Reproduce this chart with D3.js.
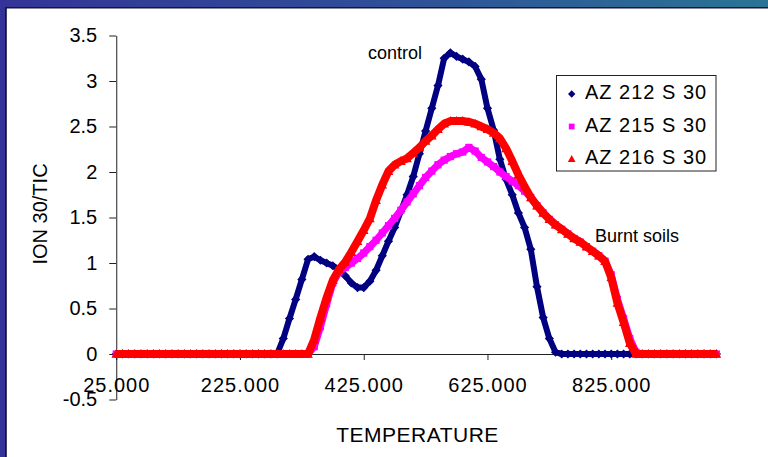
<!DOCTYPE html>
<html><head><meta charset="utf-8">
<script src="https://cdn.jsdelivr.net/npm/d3@7"></script>
<style>
body{margin:0;background:#fff}
svg{display:block}
text{font-family:Arial,"Liberation Sans",sans-serif;fill:#000}
</style>
</head><body>
<svg id="c" width="768" height="457"></svg>
<script>
// ---- data ----
const temps = [25,35,45,55,65,75,85,95,105,115,
  125,135,145,155,165,175,185,195,205,215,
  225,235,245,255,265,275,285,295,305,315,
  325,335,345,355,365,375,385,395,405,415,
  425,435,445,455,465,475,485,495,505,515,
  525,535,545,555,565,575,585,595,605,615,
  625,635,645,655,665,675,685,695,705,715,
  725,735,745,755,765,775,785,795,805,815,
  825,835,845,855,865,875,885,895,905,915,
  925,935,945,955,965,975,985,995];

const az212 = [0,0,0,0,0,0,0,0,0,0,
  0,0,0,0,0,0,0,0,0,0,
  0,0,0,0,0,0,0,0.17,0.39,0.60,
  0.82,1.04,1.07,1.03,1.00,0.97,0.93,0.86,0.78,0.73,
  0.73,0.80,0.92,1.08,1.24,1.39,1.57,1.75,1.95,2.20,
  2.45,2.70,2.95,3.25,3.31,3.27,3.24,3.21,3.16,3.02,
  2.70,2.46,2.14,1.92,1.75,1.55,1.39,1.15,0.74,0.40,
  0.17,0.02,0,0,0,0,0,0,0,0,
  0,0,0,0,0,0,0,0,0,0,
  0,0,0,0,0,0,0,0];

const az215 = [0,0,0,0,0,0,0,0,0,0,
  0,0,0,0,0,0,0,0,0,0,
  0,0,0,0,0,0,0,0,0,0,
  0,0,0.08,0.30,0.55,0.78,0.90,0.95,1.00,1.05,
  1.11,1.18,1.25,1.33,1.41,1.49,1.58,1.67,1.76,1.85,
  1.94,2.01,2.08,2.13,2.17,2.20,2.22,2.27,2.23,2.16,
  2.11,2.06,2.00,1.95,1.90,1.85,1.79,1.72,1.63,1.55,
  1.48,1.42,1.37,1.32,1.27,1.23,1.18,1.13,1.08,1.02,
  0.87,0.60,0.39,0.17,0.02,0,0,0,0,0,
  0,0,0,0,0,0,0,0];

const az216 = [0,0,0,0,0,0,0,0,0,0,
  0,0,0,0,0,0,0,0,0,0,
  0,0,0,0,0,0,0,0,0,0,
  0,0,0.16,0.40,0.62,0.81,0.93,1.01,1.12,1.24,
  1.36,1.49,1.69,1.86,2.01,2.08,2.12,2.15,2.21,2.27,
  2.34,2.40,2.47,2.53,2.56,2.56,2.56,2.55,2.53,2.50,
  2.47,2.43,2.37,2.26,2.12,1.97,1.84,1.72,1.63,1.55,
  1.48,1.42,1.37,1.32,1.27,1.23,1.18,1.13,1.08,1.02,
  0.84,0.56,0.35,0.12,0,0,0,0,0,0,
  0,0,0,0,0,0,0,0];

const seriesNames = ["AZ 212 S 30","AZ 215 S 30","AZ 216 S 30"];
const xTicks = [25,225,425,625,825];
const yTicks = [-0.5,0,0.5,1,1.5,2,2.5,3,3.5];
const xTitle = "TEMPERATURE";
const yTitle = "ION 30/TIC";
const notes = ["control","Burnt soils"];

// ---- drawing ----
const svg = d3.select("#c");
const defs = svg.append("defs");
const grad = defs.append("linearGradient").attr("id","topbar").attr("x1","0").attr("x2","1").attr("y1","0").attr("y2","0");
grad.append("stop").attr("offset","0").attr("stop-color","#343496");
grad.append("stop").attr("offset","0.5").attr("stop-color","#2f4f98");
grad.append("stop").attr("offset","1").attr("stop-color","#2a7494");

// frame
svg.append("rect").attr("x",0).attr("y",0).attr("width",768).attr("height",7).attr("fill","url(#topbar)");
svg.append("rect").attr("x",0).attr("y",0).attr("width",5).attr("height",457).attr("fill","#333399");
svg.append("rect").attr("x",5).attr("y",7).attr("width",763).attr("height",1.5).attr("fill","#15153a");
svg.append("rect").attr("x",5).attr("y",7).attr("width",1.8).attr("height",450).attr("fill","#15153a");

const x = d3.scaleLinear().domain([25,1000]).range([116.25,719.5]);
const y = d3.scaleLinear().domain([-0.5,3.5]).range([399.5,35.5]);

// axes
const gy = svg.append("g").attr("transform",`translate(${x(25)},0)`)
  .call(d3.axisLeft(y).tickValues(yTicks).tickFormat(d=>String(d)).tickSize(7).tickSizeOuter(0).tickPadding(12));
const gx = svg.append("g").attr("transform",`translate(0,${y(0)})`)
  .call(d3.axisBottom(x).tickValues(xTicks).tickFormat(d3.format(".3f")).tickSize(6).tickSizeOuter(0).tickPadding(18));
[gx,gy].forEach(g=>{
  g.select(".domain").attr("stroke","#222");
  g.selectAll(".tick line").attr("stroke","#222");
  g.selectAll("text").attr("font-size",20).attr("fill","#000").attr("font-family","Arial, 'Liberation Sans', sans-serif");
});
gx.selectAll("text").style("letter-spacing","1px");

// series
const sym = {
  diamond: "M0,-4.6L4.6,0L0,4.6L-4.6,0Z",
  square: "M-3.6,-3.6H3.6V3.6H-3.6Z",
  triangle: "M0,-5L4.8,3.8H-4.8Z"
};
const series = [
  {name: seriesNames[0], values: az212, color: "#000080", shape: sym.diamond, lw: 6},
  {name: seriesNames[1], values: az215, color: "#FF00FF", shape: sym.square, lw: 7.2},
  {name: seriesNames[2], values: az216, color: "#FF0000", shape: sym.triangle, lw: 8}
];
const line = d3.line().x((d,i)=>x(temps[i])).y(d=>y(d));
series.forEach(s=>{
  const g = svg.append("g");
  g.append("path").attr("d", line(s.values)).attr("fill","none")
    .attr("stroke", s.color).attr("stroke-width", s.lw).attr("stroke-linejoin","round");
  g.selectAll("path.m").data(s.values).join("path").attr("class","m")
    .attr("d", s.shape).attr("fill", s.color)
    .attr("transform",(d,i)=>`translate(${x(temps[i])},${y(d)})`);
});

// titles
svg.append("text").attr("x",417.5).attr("y",442).attr("text-anchor","middle")
  .attr("font-size",21).style("letter-spacing","0.5px").text(xTitle);
svg.append("text").attr("transform","translate(46.5,214) rotate(-90)").attr("text-anchor","middle")
  .attr("font-size",20).text(yTitle);

// annotations
svg.append("text").attr("x",368).attr("y",59).attr("font-size",18).text(notes[0]);
svg.append("text").attr("x",595).attr("y",241.5).attr("font-size",18).text(notes[1]);

// legend
const lg = svg.append("g");
lg.append("rect").attr("x",556.5).attr("y",75.5).attr("width",159.5).attr("height",95.5)
  .attr("fill","#fff").attr("stroke","#222").attr("stroke-width",1);
series.forEach((s,i)=>{
  const cy = 94 + i*32.5;
  lg.append("path").attr("d", s.shape).attr("fill", s.color)
    .attr("transform",`translate(571.7,${cy}) scale(0.8)`);
  lg.append("text").attr("x",585).attr("y",cy+5).attr("font-size",20)
    .style("letter-spacing","1px").text(s.name);
});
</script>
</body></html>
